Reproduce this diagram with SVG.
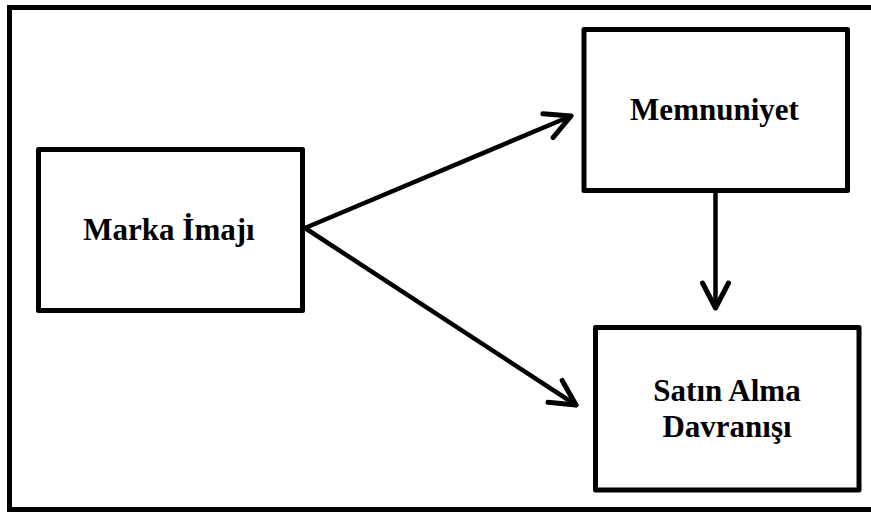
<svg xmlns="http://www.w3.org/2000/svg" width="871" height="513" viewBox="0 0 871 513">
<style>
.box{fill:#fff;stroke:#000;stroke-width:5;stroke-linejoin:round}
.lbl{font-family:"Liberation Serif","Times New Roman",serif;font-weight:bold;font-size:31px;fill:#000;text-anchor:middle}
.con{stroke:#000;stroke-width:4.5;fill:none;stroke-linecap:round}
</style>
<defs>
<marker id="arr" markerUnits="userSpaceOnUse" markerWidth="40" markerHeight="40" viewBox="-30 -20 40 40" refX="0" refY="0" orient="auto">
<path d="M-25,-13 L0,0 L-25,13" fill="none" stroke="#000" stroke-width="5" stroke-linecap="round" stroke-linejoin="round"/>
</marker>
</defs>
<rect x="0" y="0" width="871" height="513" fill="#fff"/>
<rect x="9.5" y="7.5" width="870" height="502" fill="none" stroke="#000" stroke-width="5"/>
<g id="connectors">
<line class="con" x1="305" y1="228" x2="571" y2="116" marker-end="url(#arr)"/>
<line class="con" x1="305" y1="228" x2="576" y2="405" marker-end="url(#arr)"/>
<line class="con" x1="715.5" y1="191" x2="715.5" y2="308" marker-end="url(#arr)"/>
</g>
<g id="marka">
<rect class="box" x="38.5" y="149.5" width="264" height="161"/>
<text class="lbl" x="169" y="240">Marka İmajı</text>
</g>
<g id="memnuniyet">
<rect class="box" x="584" y="29.5" width="263.5" height="161"/>
<text class="lbl" x="714.5" y="120">Memnuniyet</text>
</g>
<g id="satin">
<rect class="box" x="595.5" y="327.5" width="263.5" height="162.5"/>
<text class="lbl" x="727" y="401">Satın Alma</text>
<text class="lbl" x="727" y="437">Davranışı</text>
</g>
</svg>
